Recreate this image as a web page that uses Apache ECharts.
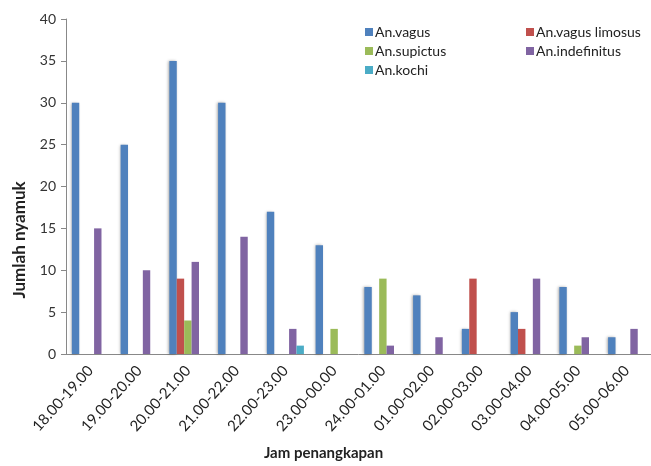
<!DOCTYPE html>
<html><head><meta charset="utf-8">
<script src="https://cdn.jsdelivr.net/npm/echarts@6/dist/echarts.min.js"></script>
<style>html,body{margin:0;padding:0;background:#fff}#c{width:651px;height:466px}</style>
</head><body><div id="c"></div>
<script>
const categories = ['18.00-19.00','19.00-20.00','20.00-21.00','21.00-22.00','22.00-23.00','23.00-00.00','24.00-01.00','01.00-02.00','02.00-03.00','03.00-04.00','04.00-05.00','05.00-06.00'];
const vagus      = [30,25,35,30,17,13,8,7,3,5,8,2];
const limosus    = [0,0,9,0,0,0,0,0,9,3,0,0];
const supictus   = [0,0,4,0,0,3,9,0,0,0,1,0];
const indefinitus= [15,10,11,14,3,0,1,2,0,9,2,3];
const kochi      = [0,0,0,0,1,0,0,0,0,0,0,0];
const yTicks = [0,5,10,15,20,25,30,35,40];
const yName = 'Jumlah nyamuk';

const FONT = 'Lato';
const chart = echarts.init(document.getElementById('c'));
function s(name, data, color, shadow){
  return {name, type:'bar', data, barGap:'0%', barCategoryGap:'24%',
    itemStyle: shadow ? {color, shadowColor:'rgba(0,0,0,0.35)', shadowBlur:3, shadowOffsetX:-1} : {color}};
}
const legendCommon = {orient:'vertical', itemWidth:8, itemHeight:8, itemGap:5, icon:'rect',
  textStyle:{fontFamily:FONT, fontSize:14, color:'#222', padding:[0,0,0,-3]}};
chart.setOption({
  animation:false,
  backgroundColor:'#fff',
  graphic:[{type:'text', x:20, y:240, rotation:Math.PI/2,
    style:{text:yName, fontFamily:FONT, fontSize:17, fontWeight:'bold', fill:'#222',
      align:'center', verticalAlign:'middle'}}],
  legend:[
    Object.assign({left:360, top:20, data:['An.vagus','An.supictus','An.kochi']}, legendCommon),
    Object.assign({left:521, top:20, data:['An.vagus limosus','An.indefinitus']}, legendCommon)
  ],
  grid:{left:66, top:19, bottom:112, width:593, containLabel:false},
  xAxis:{type:'category', data:categories,
    name:'Jam penangkapan', nameLocation:'middle', nameGap:92,
    nameTextStyle:{fontFamily:FONT, fontSize:15, fontWeight:'bold', color:'#222', padding:[0,70,0,0]},
    axisLine:{lineStyle:{color:'#888'}}, axisTick:{length:5, lineStyle:{color:'#888'}},
    axisLabel:{rotate:48, fontFamily:FONT, fontSize:15, color:'#222', margin:14, interval:0}},
  yAxis:{type:'value', min:0, max:40, interval:5,
    axisLine:{show:true, lineStyle:{color:'#888'}}, axisTick:{show:true, length:5, lineStyle:{color:'#888'}},
    splitLine:{show:false},
    axisLabel:{fontFamily:FONT, fontSize:14, color:'#333', margin:10,
      formatter:v=>yTicks.includes(v)?String(v):''}},
  series:[
    s('An.vagus', vagus, '#4F81BD', true),
    s('An.vagus limosus', limosus, '#C0504D'),
    s('An.supictus', supictus, '#9BBB59'),
    s('An.indefinitus', indefinitus, '#8064A2'),
    s('An.kochi', kochi, '#4BACC6')
  ]
});
</script></body></html>
